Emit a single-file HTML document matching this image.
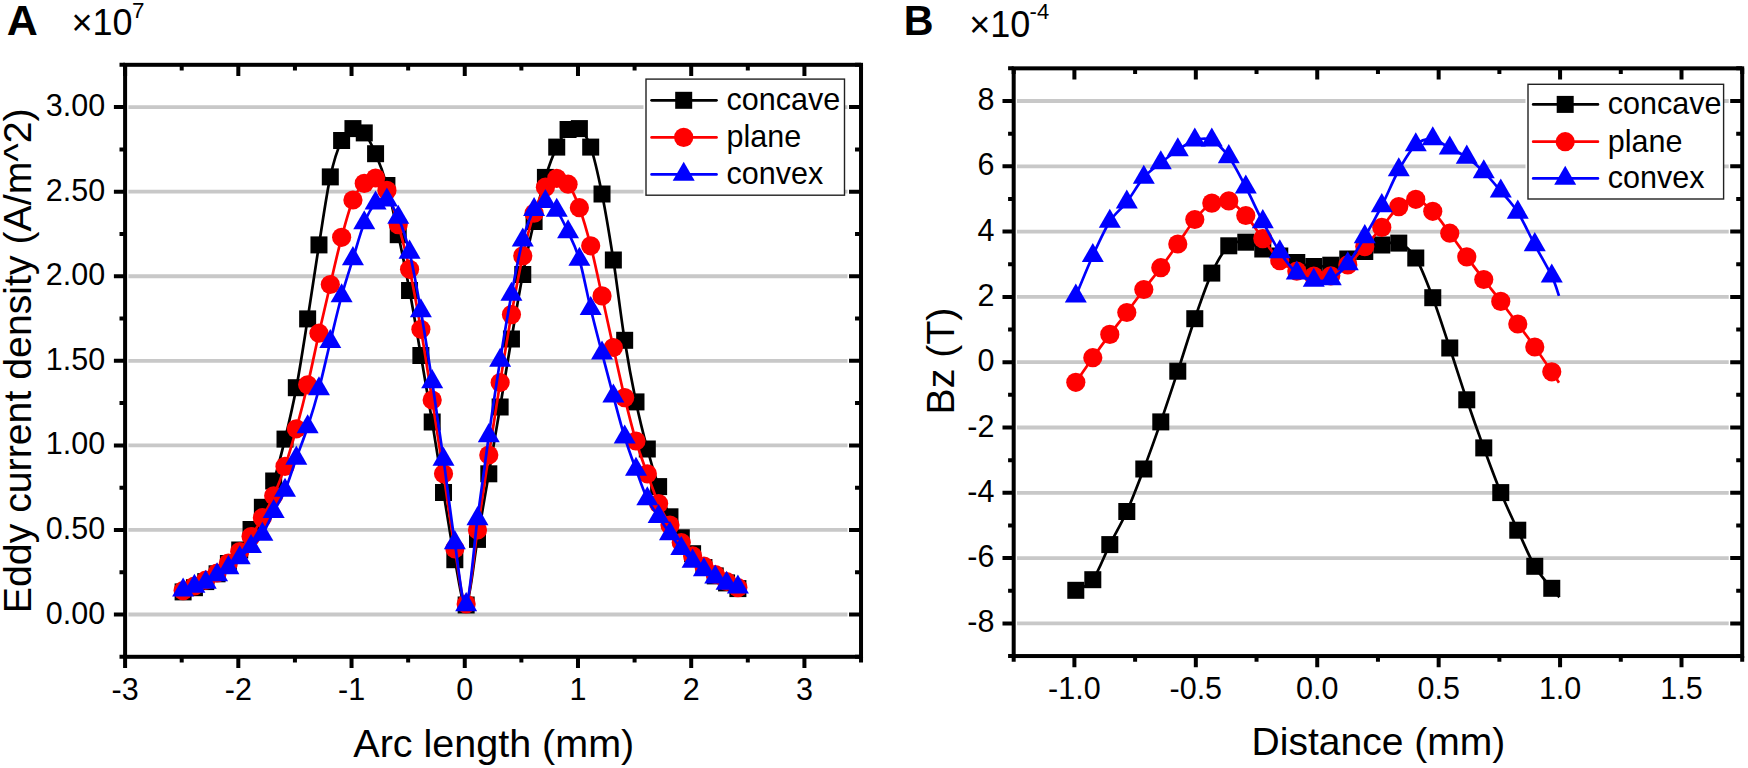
<!DOCTYPE html><html><head><meta charset="utf-8"><title>Eddy current density and Bz</title><style>
html,body{margin:0;padding:0;background:#fff}svg{display:block}
text{font-family:"Liberation Sans",Arial,Helvetica,sans-serif;fill:#000}
.t30{font-size:30.5px}.t39{font-size:39.5px}.t39b{font-size:39px}.t39r{font-size:39.25px}.tb{font-size:43px;font-weight:bold}.tb2{font-size:42.5px;font-weight:bold}.t36{font-size:36px}.tsup{font-size:22.5px}.tsup2{font-size:22px}
</style></head><body>
<svg width="1748" height="768" viewBox="0 0 1748 768">
<rect width="1748" height="768" fill="#fff"/>
<path d="M128.4 614.51H847.53M128.4 529.94H847.53M128.4 445.38H847.53M128.4 360.8H847.53M128.4 276.24H847.53M128.4 191.66H847.53M128.4 107.1H847.53" stroke="#c8c8c8" stroke-width="3.8" fill="none"/>
<path d="M183.11 591.9C185 591.2 190.66 589.42 194.43 587.7C198.21 585.98 201.98 583.92 205.75 581.6C209.53 579.28 213.3 576.82 217.08 573.8C220.85 570.78 224.62 567.47 228.4 563.5C232.17 559.53 235.95 555.67 239.72 550C243.49 544.33 247.27 536.62 251.04 529.5C254.82 522.38 258.59 515.38 262.36 507.3C266.14 499.22 269.91 492.37 273.69 481C277.46 469.63 281.23 454.65 285.01 439.1C288.78 423.55 292.56 407.73 296.33 387.7C300.1 367.67 303.88 342.7 307.65 318.9C311.43 295.1 315.2 268.57 318.97 244.9C322.75 221.23 326.52 194.3 330.3 176.9C334.07 159.5 337.84 148.55 341.62 140.5C345.39 132.45 349.17 129.87 352.94 128.6C356.71 127.33 360.49 128.72 364.26 132.9C368.04 137.08 371.81 144.93 375.58 153.7C379.36 162.47 383.13 172 386.91 185.5C390.68 199 394.45 217.2 398.23 234.7C402 252.2 405.78 270.37 409.55 290.5C413.32 310.63 417.1 333.58 420.87 355.5C424.65 377.42 428.42 399.17 432.19 422C435.97 444.83 439.74 469.55 443.52 492.5C447.29 515.45 451.06 540.95 454.84 559.7C458.61 578.45 462.39 608.38 466.16 605C469.93 601.62 473.71 561.27 477.48 539.4C481.26 517.53 485.03 495.87 488.8 473.8C492.58 451.73 496.35 429.47 500.13 407C503.9 384.53 507.67 361.08 511.45 339C515.22 316.92 519 294.08 522.77 274.5C526.54 254.92 530.32 237.68 534.09 221.5C537.87 205.32 541.64 189.8 545.41 177.4C549.19 165 552.96 155.08 556.74 147.1C560.51 139.12 564.28 132.58 568.06 129.5C571.83 126.42 575.61 125.67 579.38 128.6C583.15 131.53 586.93 136.2 590.7 147.1C594.48 158 598.25 175.18 602.02 194C605.8 212.82 609.57 235.62 613.35 260C617.12 284.38 620.89 316.65 624.67 340.3C628.44 363.95 632.22 383.78 635.99 401.9C639.76 420.02 643.54 434.88 647.31 449C651.09 463.12 654.86 475.3 658.63 486.6C662.41 497.9 666.18 508.27 669.96 516.8C673.73 525.33 677.5 531.65 681.28 537.8C685.05 543.95 688.83 548.75 692.6 553.7C696.37 558.65 700.15 563.8 703.92 567.5C707.7 571.2 711.47 573.33 715.24 575.9C719.02 578.47 722.79 580.78 726.57 582.9C730.34 585.02 736 587.65 737.89 588.6" fill="none" stroke="#000" stroke-width="2.7" stroke-linejoin="round"/>
<g><rect x="174.61" y="583.4" width="17" height="17" fill="#000"/><rect x="185.93" y="579.2" width="17" height="17" fill="#000"/><rect x="197.25" y="573.1" width="17" height="17" fill="#000"/><rect x="208.58" y="565.3" width="17" height="17" fill="#000"/><rect x="219.9" y="555" width="17" height="17" fill="#000"/><rect x="231.22" y="541.5" width="17" height="17" fill="#000"/><rect x="242.54" y="521" width="17" height="17" fill="#000"/><rect x="253.86" y="498.8" width="17" height="17" fill="#000"/><rect x="265.19" y="472.5" width="17" height="17" fill="#000"/><rect x="276.51" y="430.6" width="17" height="17" fill="#000"/><rect x="287.83" y="379.2" width="17" height="17" fill="#000"/><rect x="299.15" y="310.4" width="17" height="17" fill="#000"/><rect x="310.47" y="236.4" width="17" height="17" fill="#000"/><rect x="321.8" y="168.4" width="17" height="17" fill="#000"/><rect x="333.12" y="132" width="17" height="17" fill="#000"/><rect x="344.44" y="120.1" width="17" height="17" fill="#000"/><rect x="355.76" y="124.4" width="17" height="17" fill="#000"/><rect x="367.08" y="145.2" width="17" height="17" fill="#000"/><rect x="378.41" y="177" width="17" height="17" fill="#000"/><rect x="389.73" y="226.2" width="17" height="17" fill="#000"/><rect x="401.05" y="282" width="17" height="17" fill="#000"/><rect x="412.37" y="347" width="17" height="17" fill="#000"/><rect x="423.69" y="413.5" width="17" height="17" fill="#000"/><rect x="435.02" y="484" width="17" height="17" fill="#000"/><rect x="446.34" y="551.2" width="17" height="17" fill="#000"/><rect x="457.66" y="596.5" width="17" height="17" fill="#000"/><rect x="468.98" y="530.9" width="17" height="17" fill="#000"/><rect x="480.3" y="465.3" width="17" height="17" fill="#000"/><rect x="491.63" y="398.5" width="17" height="17" fill="#000"/><rect x="502.95" y="330.5" width="17" height="17" fill="#000"/><rect x="514.27" y="266" width="17" height="17" fill="#000"/><rect x="525.59" y="213" width="17" height="17" fill="#000"/><rect x="536.91" y="168.9" width="17" height="17" fill="#000"/><rect x="548.24" y="138.6" width="17" height="17" fill="#000"/><rect x="559.56" y="121" width="17" height="17" fill="#000"/><rect x="570.88" y="120.1" width="17" height="17" fill="#000"/><rect x="582.2" y="138.6" width="17" height="17" fill="#000"/><rect x="593.52" y="185.5" width="17" height="17" fill="#000"/><rect x="604.85" y="251.5" width="17" height="17" fill="#000"/><rect x="616.17" y="331.8" width="17" height="17" fill="#000"/><rect x="627.49" y="393.4" width="17" height="17" fill="#000"/><rect x="638.81" y="440.5" width="17" height="17" fill="#000"/><rect x="650.13" y="478.1" width="17" height="17" fill="#000"/><rect x="661.46" y="508.3" width="17" height="17" fill="#000"/><rect x="672.78" y="529.3" width="17" height="17" fill="#000"/><rect x="684.1" y="545.2" width="17" height="17" fill="#000"/><rect x="695.42" y="559" width="17" height="17" fill="#000"/><rect x="706.74" y="567.4" width="17" height="17" fill="#000"/><rect x="718.07" y="574.4" width="17" height="17" fill="#000"/><rect x="729.39" y="580.1" width="17" height="17" fill="#000"/></g>
<path d="M183.11 590.6C185 589.83 190.66 587.73 194.43 586C198.21 584.27 201.98 582.37 205.75 580.2C209.53 578.03 213.3 575.87 217.08 573C220.85 570.13 224.62 566.58 228.4 563C232.17 559.42 235.95 555.92 239.72 551.5C243.49 547.08 247.27 542.13 251.04 536.5C254.82 530.87 258.59 524.48 262.36 517.7C266.14 510.92 269.91 504.35 273.69 495.8C277.46 487.25 281.23 477.57 285.01 466.4C288.78 455.23 292.56 442.4 296.33 428.8C300.1 415.2 303.88 400.73 307.65 384.8C311.43 368.87 315.2 349.92 318.97 333.2C322.75 316.48 326.52 300.48 330.3 284.5C334.07 268.52 337.84 251.38 341.62 237.3C345.39 223.22 349.17 208.98 352.94 200C356.71 191.02 360.49 187.07 364.26 183.4C368.04 179.73 371.81 176.83 375.58 178C379.36 179.17 383.13 182.63 386.91 190.4C390.68 198.17 394.45 211.45 398.23 224.6C402 237.75 405.78 251.85 409.55 269.3C413.32 286.75 417.1 307.52 420.87 329.3C424.65 351.08 428.42 375.92 432.19 400C435.97 424.08 439.74 449 443.52 473.8C447.29 498.6 451.06 527.1 454.84 548.8C458.61 570.5 462.39 607.13 466.16 604C469.93 600.87 473.71 554.83 477.48 530C481.26 505.17 485.03 479.58 488.8 455C492.58 430.42 496.35 405.9 500.13 382.5C503.9 359.1 507.67 335.7 511.45 314.6C515.22 293.5 519 272.8 522.77 255.9C526.54 239 530.32 224.65 534.09 213.2C537.87 201.75 541.64 193 545.41 187.2C549.19 181.4 552.96 178.9 556.74 178.4C560.51 177.9 564.28 179.32 568.06 184.2C571.83 189.08 575.61 197.43 579.38 207.7C583.15 217.97 586.93 231.1 590.7 245.8C594.48 260.5 598.25 278.95 602.02 295.9C605.8 312.85 609.57 330.55 613.35 347.5C617.12 364.45 620.89 382.02 624.67 397.6C628.44 413.18 632.22 428.3 635.99 441C639.76 453.7 643.54 463.37 647.31 473.8C651.09 484.23 654.86 495.05 658.63 503.6C662.41 512.15 666.18 518.6 669.96 525.1C673.73 531.6 677.5 537.47 681.28 542.6C685.05 547.73 688.83 552 692.6 555.9C696.37 559.8 700.15 562.9 703.92 566C707.7 569.1 711.47 571.92 715.24 574.5C719.02 577.08 722.79 579.32 726.57 581.5C730.34 583.68 736 586.58 737.89 587.6" fill="none" stroke="#ff0000" stroke-width="2.7" stroke-linejoin="round"/>
<g><circle cx="183.11" cy="590.6" r="9.6" fill="#ff0000"/><circle cx="194.43" cy="586" r="9.6" fill="#ff0000"/><circle cx="205.75" cy="580.2" r="9.6" fill="#ff0000"/><circle cx="217.08" cy="573" r="9.6" fill="#ff0000"/><circle cx="228.4" cy="563" r="9.6" fill="#ff0000"/><circle cx="239.72" cy="551.5" r="9.6" fill="#ff0000"/><circle cx="251.04" cy="536.5" r="9.6" fill="#ff0000"/><circle cx="262.36" cy="517.7" r="9.6" fill="#ff0000"/><circle cx="273.69" cy="495.8" r="9.6" fill="#ff0000"/><circle cx="285.01" cy="466.4" r="9.6" fill="#ff0000"/><circle cx="296.33" cy="428.8" r="9.6" fill="#ff0000"/><circle cx="307.65" cy="384.8" r="9.6" fill="#ff0000"/><circle cx="318.97" cy="333.2" r="9.6" fill="#ff0000"/><circle cx="330.3" cy="284.5" r="9.6" fill="#ff0000"/><circle cx="341.62" cy="237.3" r="9.6" fill="#ff0000"/><circle cx="352.94" cy="200" r="9.6" fill="#ff0000"/><circle cx="364.26" cy="183.4" r="9.6" fill="#ff0000"/><circle cx="375.58" cy="178" r="9.6" fill="#ff0000"/><circle cx="386.91" cy="190.4" r="9.6" fill="#ff0000"/><circle cx="398.23" cy="224.6" r="9.6" fill="#ff0000"/><circle cx="409.55" cy="269.3" r="9.6" fill="#ff0000"/><circle cx="420.87" cy="329.3" r="9.6" fill="#ff0000"/><circle cx="432.19" cy="400" r="9.6" fill="#ff0000"/><circle cx="443.52" cy="473.8" r="9.6" fill="#ff0000"/><circle cx="454.84" cy="548.8" r="9.6" fill="#ff0000"/><circle cx="466.16" cy="604" r="9.6" fill="#ff0000"/><circle cx="477.48" cy="530" r="9.6" fill="#ff0000"/><circle cx="488.8" cy="455" r="9.6" fill="#ff0000"/><circle cx="500.13" cy="382.5" r="9.6" fill="#ff0000"/><circle cx="511.45" cy="314.6" r="9.6" fill="#ff0000"/><circle cx="522.77" cy="255.9" r="9.6" fill="#ff0000"/><circle cx="534.09" cy="213.2" r="9.6" fill="#ff0000"/><circle cx="545.41" cy="187.2" r="9.6" fill="#ff0000"/><circle cx="556.74" cy="178.4" r="9.6" fill="#ff0000"/><circle cx="568.06" cy="184.2" r="9.6" fill="#ff0000"/><circle cx="579.38" cy="207.7" r="9.6" fill="#ff0000"/><circle cx="590.7" cy="245.8" r="9.6" fill="#ff0000"/><circle cx="602.02" cy="295.9" r="9.6" fill="#ff0000"/><circle cx="613.35" cy="347.5" r="9.6" fill="#ff0000"/><circle cx="624.67" cy="397.6" r="9.6" fill="#ff0000"/><circle cx="635.99" cy="441" r="9.6" fill="#ff0000"/><circle cx="647.31" cy="473.8" r="9.6" fill="#ff0000"/><circle cx="658.63" cy="503.6" r="9.6" fill="#ff0000"/><circle cx="669.96" cy="525.1" r="9.6" fill="#ff0000"/><circle cx="681.28" cy="542.6" r="9.6" fill="#ff0000"/><circle cx="692.6" cy="555.9" r="9.6" fill="#ff0000"/><circle cx="703.92" cy="566" r="9.6" fill="#ff0000"/><circle cx="715.24" cy="574.5" r="9.6" fill="#ff0000"/><circle cx="726.57" cy="581.5" r="9.6" fill="#ff0000"/><circle cx="737.89" cy="587.6" r="9.6" fill="#ff0000"/></g>
<path d="M183.11 590.1C185 589.5 190.66 587.78 194.43 586.5C198.21 585.22 201.98 584.33 205.75 582.4C209.53 580.47 213.3 577.33 217.08 574.9C220.85 572.47 224.62 570.63 228.4 567.8C232.17 564.97 235.95 561.42 239.72 557.9C243.49 554.38 247.27 550.62 251.04 546.7C254.82 542.78 258.59 540.25 262.36 534.4C266.14 528.55 269.91 518.92 273.69 511.6C277.46 504.28 281.23 499.38 285.01 490.5C288.78 481.62 292.56 468.88 296.33 458.3C300.1 447.72 303.88 438.55 307.65 427C311.43 415.45 315.2 403.22 318.97 389C322.75 374.78 326.52 357.2 330.3 341.7C334.07 326.2 337.84 309.82 341.62 296C345.39 282.18 349.17 270.97 352.94 258.8C356.71 246.63 360.49 232.28 364.26 223C368.04 213.72 371.81 206.92 375.58 203.1C379.36 199.28 383.13 197.72 386.91 200.1C390.68 202.48 394.45 208.7 398.23 217.4C402 226.1 405.78 236.7 409.55 252.3C413.32 267.9 417.1 289.42 420.87 311C424.65 332.58 428.42 357.07 432.19 381.8C435.97 406.53 439.74 432.57 443.52 459.4C447.29 486.23 451.06 518.57 454.84 542.8C458.61 567.03 462.39 608.8 466.16 604.8C469.93 600.8 473.71 546.97 477.48 518.8C481.26 490.63 485.03 462.2 488.8 435.8C492.58 409.4 496.35 383.95 500.13 360.4C503.9 336.85 507.67 314.55 511.45 294.5C515.22 274.45 519 254.23 522.77 240.1C526.54 225.97 530.32 216.1 534.09 209.7C537.87 203.3 541.64 201.57 545.41 201.7C549.19 201.83 552.96 205.45 556.74 210.5C560.51 215.55 564.28 223.83 568.06 232C571.83 240.17 575.61 246.72 579.38 259.5C583.15 272.28 586.93 293.1 590.7 308.7C594.48 324.3 598.25 338.53 602.02 353.1C605.8 367.67 609.57 382.1 613.35 396.1C617.12 410.1 620.89 424.87 624.67 437.1C628.44 449.33 632.22 459.18 635.99 469.5C639.76 479.82 643.54 491.13 647.31 499C651.09 506.87 654.86 510.9 658.63 516.7C662.41 522.5 666.18 528.47 669.96 533.8C673.73 539.13 677.5 544.12 681.28 548.7C685.05 553.28 688.83 557.75 692.6 561.3C696.37 564.85 700.15 567.35 703.92 570C707.7 572.65 711.47 574.97 715.24 577.2C719.02 579.43 722.79 581.73 726.57 583.4C730.34 585.07 736 586.57 737.89 587.2" fill="none" stroke="#0000ff" stroke-width="2.7" stroke-linejoin="round"/>
<g><path d="M183.11 577.4L194.11 596.45L172.11 596.45Z" fill="#0000ff"/><path d="M194.43 573.8L205.43 592.85L183.43 592.85Z" fill="#0000ff"/><path d="M205.75 569.7L216.75 588.75L194.75 588.75Z" fill="#0000ff"/><path d="M217.08 562.2L228.08 581.25L206.08 581.25Z" fill="#0000ff"/><path d="M228.4 555.1L239.4 574.15L217.4 574.15Z" fill="#0000ff"/><path d="M239.72 545.2L250.72 564.25L228.72 564.25Z" fill="#0000ff"/><path d="M251.04 534L262.04 553.05L240.04 553.05Z" fill="#0000ff"/><path d="M262.36 521.7L273.36 540.75L251.36 540.75Z" fill="#0000ff"/><path d="M273.69 498.9L284.69 517.95L262.69 517.95Z" fill="#0000ff"/><path d="M285.01 477.8L296.01 496.85L274.01 496.85Z" fill="#0000ff"/><path d="M296.33 445.6L307.33 464.65L285.33 464.65Z" fill="#0000ff"/><path d="M307.65 414.3L318.65 433.35L296.65 433.35Z" fill="#0000ff"/><path d="M318.97 376.3L329.97 395.35L307.97 395.35Z" fill="#0000ff"/><path d="M330.3 329L341.3 348.05L319.3 348.05Z" fill="#0000ff"/><path d="M341.62 283.3L352.62 302.35L330.62 302.35Z" fill="#0000ff"/><path d="M352.94 246.1L363.94 265.15L341.94 265.15Z" fill="#0000ff"/><path d="M364.26 210.3L375.26 229.35L353.26 229.35Z" fill="#0000ff"/><path d="M375.58 190.4L386.58 209.45L364.58 209.45Z" fill="#0000ff"/><path d="M386.91 187.4L397.91 206.45L375.91 206.45Z" fill="#0000ff"/><path d="M398.23 204.7L409.23 223.75L387.23 223.75Z" fill="#0000ff"/><path d="M409.55 239.6L420.55 258.65L398.55 258.65Z" fill="#0000ff"/><path d="M420.87 298.3L431.87 317.35L409.87 317.35Z" fill="#0000ff"/><path d="M432.19 369.1L443.19 388.15L421.19 388.15Z" fill="#0000ff"/><path d="M443.52 446.7L454.52 465.75L432.52 465.75Z" fill="#0000ff"/><path d="M454.84 530.1L465.84 549.15L443.84 549.15Z" fill="#0000ff"/><path d="M466.16 592.1L477.16 611.15L455.16 611.15Z" fill="#0000ff"/><path d="M477.48 506.1L488.48 525.15L466.48 525.15Z" fill="#0000ff"/><path d="M488.8 423.1L499.8 442.15L477.8 442.15Z" fill="#0000ff"/><path d="M500.13 347.7L511.13 366.75L489.13 366.75Z" fill="#0000ff"/><path d="M511.45 281.8L522.45 300.85L500.45 300.85Z" fill="#0000ff"/><path d="M522.77 227.4L533.77 246.45L511.77 246.45Z" fill="#0000ff"/><path d="M534.09 197L545.09 216.05L523.09 216.05Z" fill="#0000ff"/><path d="M545.41 189L556.41 208.05L534.41 208.05Z" fill="#0000ff"/><path d="M556.74 197.8L567.74 216.85L545.74 216.85Z" fill="#0000ff"/><path d="M568.06 219.3L579.06 238.35L557.06 238.35Z" fill="#0000ff"/><path d="M579.38 246.8L590.38 265.85L568.38 265.85Z" fill="#0000ff"/><path d="M590.7 296L601.7 315.05L579.7 315.05Z" fill="#0000ff"/><path d="M602.02 340.4L613.02 359.45L591.02 359.45Z" fill="#0000ff"/><path d="M613.35 383.4L624.35 402.45L602.35 402.45Z" fill="#0000ff"/><path d="M624.67 424.4L635.67 443.45L613.67 443.45Z" fill="#0000ff"/><path d="M635.99 456.8L646.99 475.85L624.99 475.85Z" fill="#0000ff"/><path d="M647.31 486.3L658.31 505.35L636.31 505.35Z" fill="#0000ff"/><path d="M658.63 504L669.63 523.05L647.63 523.05Z" fill="#0000ff"/><path d="M669.96 521.1L680.96 540.15L658.96 540.15Z" fill="#0000ff"/><path d="M681.28 536L692.28 555.05L670.28 555.05Z" fill="#0000ff"/><path d="M692.6 548.6L703.6 567.65L681.6 567.65Z" fill="#0000ff"/><path d="M703.92 557.3L714.92 576.35L692.92 576.35Z" fill="#0000ff"/><path d="M715.24 564.5L726.24 583.55L704.24 583.55Z" fill="#0000ff"/><path d="M726.57 570.7L737.57 589.75L715.57 589.75Z" fill="#0000ff"/><path d="M737.89 574.5L748.89 593.55L726.89 593.55Z" fill="#0000ff"/></g>
<path d="M125.1 656.8v11.2M125.1 64.81v11.2M181.71 656.8v5.6M181.71 64.81v5.6M238.32 656.8v11.2M238.32 64.81v11.2M294.93 656.8v5.6M294.93 64.81v5.6M351.54 656.8v11.2M351.54 64.81v11.2M408.15 656.8v5.6M408.15 64.81v5.6M464.76 656.8v11.2M464.76 64.81v11.2M521.37 656.8v5.6M521.37 64.81v5.6M577.98 656.8v11.2M577.98 64.81v11.2M634.59 656.8v5.6M634.59 64.81v5.6M691.2 656.8v11.2M691.2 64.81v11.2M747.81 656.8v5.6M747.81 64.81v5.6M804.42 656.8v11.2M804.42 64.81v11.2M861.03 656.8v5.6M861.03 64.81v5.6M125.1 656.8h-5.6M861.03 656.8h-6M125.1 614.51h-11.2M861.03 614.51h-12M125.1 572.23h-5.6M861.03 572.23h-6M125.1 529.94h-11.2M861.03 529.94h-12M125.1 487.66h-5.6M861.03 487.66h-6M125.1 445.38h-11.2M861.03 445.38h-12M125.1 403.09h-5.6M861.03 403.09h-6M125.1 360.8h-11.2M861.03 360.8h-12M125.1 318.52h-5.6M861.03 318.52h-6M125.1 276.24h-11.2M861.03 276.24h-12M125.1 233.95h-5.6M861.03 233.95h-6M125.1 191.66h-11.2M861.03 191.66h-12M125.1 149.38h-5.6M861.03 149.38h-6M125.1 107.1h-11.2M861.03 107.1h-12M125.1 64.81h-5.6M861.03 64.81h-6" stroke="#000" stroke-width="4.0" fill="none"/>
<rect x="125.1" y="64.81" width="735.93" height="591.99" fill="none" stroke="#000" stroke-width="4.0"/>
<rect x="643.5" y="79.1" width="201" height="116.1" fill="#fff"/>
<rect x="646" y="79.1" width="198.5" height="116.1" fill="#fff" stroke="#222" stroke-width="1.4"/>
<path d="M651.6 100.3H716.5" stroke="#000" stroke-width="2.7" stroke-linecap="round"/>
<rect x="675.2" y="91.8" width="17" height="17" fill="#000"/>
<text x="726.6" y="109.5" class="t30">concave</text>
<path d="M651.6 137.4H716.5" stroke="#ff0000" stroke-width="2.7" stroke-linecap="round"/>
<circle cx="683.7" cy="137.4" r="9.6" fill="#ff0000"/>
<text x="726.6" y="146.6" class="t30">plane</text>
<path d="M651.6 174.4H716.5" stroke="#0000ff" stroke-width="2.7" stroke-linecap="round"/>
<path d="M683.7 161.7L694.7 180.75L672.7 180.75Z" fill="#0000ff"/>
<text x="726.6" y="183.6" class="t30">convex</text>
<text x="105.2" y="623.51" class="t30" text-anchor="end">0.00</text>
<text x="105.2" y="538.94" class="t30" text-anchor="end">0.50</text>
<text x="105.2" y="454.38" class="t30" text-anchor="end">1.00</text>
<text x="105.2" y="369.8" class="t30" text-anchor="end">1.50</text>
<text x="105.2" y="285.24" class="t30" text-anchor="end">2.00</text>
<text x="105.2" y="200.66" class="t30" text-anchor="end">2.50</text>
<text x="105.2" y="116.1" class="t30" text-anchor="end">3.00</text>
<text x="125.1" y="699.5" class="t30" text-anchor="middle">-3</text>
<text x="238.32" y="699.5" class="t30" text-anchor="middle">-2</text>
<text x="351.54" y="699.5" class="t30" text-anchor="middle">-1</text>
<text x="464.76" y="699.5" class="t30" text-anchor="middle">0</text>
<text x="577.98" y="699.5" class="t30" text-anchor="middle">1</text>
<text x="691.2" y="699.5" class="t30" text-anchor="middle">2</text>
<text x="804.42" y="699.5" class="t30" text-anchor="middle">3</text>
<text x="353.3" y="757" class="t39">Arc length (mm)</text>
<text transform="translate(30.5 613.2) rotate(-90)" class="t39r">Eddy current density (A/m^2)</text>
<text x="6.7" y="35" class="tb">A</text>
<text x="71.4" y="35.2" class="t36">×10</text><text x="131.9" y="18.4" class="tsup">7</text>
<path d="M1016.99 623.4H1728.71M1016.99 558.1H1728.71M1016.99 492.8H1728.71M1016.99 427.5H1728.71M1016.99 362.2H1728.71M1016.99 296.9H1728.71M1016.99 231.6H1728.71M1016.99 166.3H1728.71M1016.99 101H1728.71" stroke="#c8c8c8" stroke-width="3.8" fill="none"/>
<path d="M1075.8 590.3C1078.63 588.53 1087.13 587.32 1092.8 579.7C1098.47 572.08 1104.13 555.97 1109.8 544.6C1115.46 533.23 1121.13 524.1 1126.8 511.5C1132.46 498.9 1138.13 483.93 1143.8 469C1149.46 454.07 1155.13 438.2 1160.79 421.9C1166.46 405.6 1172.13 388.4 1177.79 371.2C1183.46 354 1189.13 335.05 1194.79 318.7C1200.46 302.35 1206.12 285.25 1211.79 273.1C1217.46 260.95 1223.12 250.95 1228.79 245.8C1234.46 240.65 1240.12 241.67 1245.79 242.2C1251.45 242.73 1257.12 246.7 1262.79 249C1268.45 251.3 1274.12 253.75 1279.79 256C1285.45 258.25 1291.12 260.75 1296.78 262.5C1302.45 264.25 1308.12 266.05 1313.78 266.5C1319.45 266.95 1325.12 266.45 1330.78 265.2C1336.45 263.95 1342.11 261.28 1347.78 259C1353.45 256.72 1359.11 253.83 1364.78 251.5C1370.45 249.17 1376.11 246.4 1381.78 245C1387.44 243.6 1393.11 240.93 1398.78 243.1C1404.44 245.27 1410.11 248.9 1415.78 258C1421.44 267.1 1427.11 282.7 1432.77 297.7C1438.44 312.7 1444.11 330.98 1449.77 348C1455.44 365.02 1461.11 383.15 1466.77 399.8C1472.44 416.45 1478.1 432.43 1483.77 447.9C1489.44 463.37 1495.1 478.88 1500.77 492.6C1506.44 506.32 1512.1 517.92 1517.77 530.2C1523.44 542.48 1529.1 556.62 1534.77 566.3C1540.43 575.98 1547.68 583.13 1551.77 588.3C1555.86 593.47 1558.04 595.8 1559.3 597.3" fill="none" stroke="#000" stroke-width="2.7" stroke-linejoin="round"/>
<g><rect x="1067.3" y="581.8" width="17" height="17" fill="#000"/><rect x="1084.3" y="571.2" width="17" height="17" fill="#000"/><rect x="1101.3" y="536.1" width="17" height="17" fill="#000"/><rect x="1118.3" y="503" width="17" height="17" fill="#000"/><rect x="1135.3" y="460.5" width="17" height="17" fill="#000"/><rect x="1152.29" y="413.4" width="17" height="17" fill="#000"/><rect x="1169.29" y="362.7" width="17" height="17" fill="#000"/><rect x="1186.29" y="310.2" width="17" height="17" fill="#000"/><rect x="1203.29" y="264.6" width="17" height="17" fill="#000"/><rect x="1220.29" y="237.3" width="17" height="17" fill="#000"/><rect x="1237.29" y="233.7" width="17" height="17" fill="#000"/><rect x="1254.29" y="240.5" width="17" height="17" fill="#000"/><rect x="1271.29" y="247.5" width="17" height="17" fill="#000"/><rect x="1288.28" y="254" width="17" height="17" fill="#000"/><rect x="1305.28" y="258" width="17" height="17" fill="#000"/><rect x="1322.28" y="256.7" width="17" height="17" fill="#000"/><rect x="1339.28" y="250.5" width="17" height="17" fill="#000"/><rect x="1356.28" y="243" width="17" height="17" fill="#000"/><rect x="1373.28" y="236.5" width="17" height="17" fill="#000"/><rect x="1390.28" y="234.6" width="17" height="17" fill="#000"/><rect x="1407.28" y="249.5" width="17" height="17" fill="#000"/><rect x="1424.27" y="289.2" width="17" height="17" fill="#000"/><rect x="1441.27" y="339.5" width="17" height="17" fill="#000"/><rect x="1458.27" y="391.3" width="17" height="17" fill="#000"/><rect x="1475.27" y="439.4" width="17" height="17" fill="#000"/><rect x="1492.27" y="484.1" width="17" height="17" fill="#000"/><rect x="1509.27" y="521.7" width="17" height="17" fill="#000"/><rect x="1526.27" y="557.8" width="17" height="17" fill="#000"/><rect x="1543.27" y="579.8" width="17" height="17" fill="#000"/></g>
<path d="M1075.8 382.3C1078.63 378.2 1087.13 365.68 1092.8 357.7C1098.47 349.72 1104.13 341.93 1109.8 334.4C1115.46 326.87 1121.13 319.98 1126.8 312.5C1132.46 305.02 1138.13 296.97 1143.8 289.5C1149.46 282.03 1155.13 275.28 1160.79 267.7C1166.46 260.12 1172.13 252.03 1177.79 244C1183.46 235.97 1189.13 226.32 1194.79 219.5C1200.46 212.68 1206.12 206.2 1211.79 203.1C1217.46 200 1223.12 198.83 1228.79 200.9C1234.46 202.97 1240.12 209.22 1245.79 215.5C1251.45 221.78 1257.12 231.07 1262.79 238.6C1268.45 246.13 1274.12 255.28 1279.79 260.7C1285.45 266.12 1291.12 268.53 1296.78 271.1C1302.45 273.67 1308.12 275.32 1313.78 276.1C1319.45 276.88 1325.12 277.67 1330.78 275.8C1336.45 273.93 1342.11 269.77 1347.78 264.9C1353.45 260.03 1359.11 252.85 1364.78 246.6C1370.45 240.35 1376.11 234.07 1381.78 227.4C1387.44 220.73 1393.11 211.28 1398.78 206.6C1404.44 201.92 1410.11 198.52 1415.78 199.3C1421.44 200.08 1427.11 205.65 1432.77 211.3C1438.44 216.95 1444.11 225.6 1449.77 233.2C1455.44 240.8 1461.11 249.18 1466.77 256.9C1472.44 264.62 1478.1 272.08 1483.77 279.5C1489.44 286.92 1495.1 293.98 1500.77 301.4C1506.44 308.82 1512.1 316.4 1517.77 324C1523.44 331.6 1529.1 339.03 1534.77 347C1540.43 354.97 1547.73 365.83 1551.77 371.8C1555.81 377.77 1557.79 380.97 1559 382.8" fill="none" stroke="#ff0000" stroke-width="2.7" stroke-linejoin="round"/>
<g><circle cx="1075.8" cy="382.3" r="9.6" fill="#ff0000"/><circle cx="1092.8" cy="357.7" r="9.6" fill="#ff0000"/><circle cx="1109.8" cy="334.4" r="9.6" fill="#ff0000"/><circle cx="1126.8" cy="312.5" r="9.6" fill="#ff0000"/><circle cx="1143.8" cy="289.5" r="9.6" fill="#ff0000"/><circle cx="1160.79" cy="267.7" r="9.6" fill="#ff0000"/><circle cx="1177.79" cy="244" r="9.6" fill="#ff0000"/><circle cx="1194.79" cy="219.5" r="9.6" fill="#ff0000"/><circle cx="1211.79" cy="203.1" r="9.6" fill="#ff0000"/><circle cx="1228.79" cy="200.9" r="9.6" fill="#ff0000"/><circle cx="1245.79" cy="215.5" r="9.6" fill="#ff0000"/><circle cx="1262.79" cy="238.6" r="9.6" fill="#ff0000"/><circle cx="1279.79" cy="260.7" r="9.6" fill="#ff0000"/><circle cx="1296.78" cy="271.1" r="9.6" fill="#ff0000"/><circle cx="1313.78" cy="276.1" r="9.6" fill="#ff0000"/><circle cx="1330.78" cy="275.8" r="9.6" fill="#ff0000"/><circle cx="1347.78" cy="264.9" r="9.6" fill="#ff0000"/><circle cx="1364.78" cy="246.6" r="9.6" fill="#ff0000"/><circle cx="1381.78" cy="227.4" r="9.6" fill="#ff0000"/><circle cx="1398.78" cy="206.6" r="9.6" fill="#ff0000"/><circle cx="1415.78" cy="199.3" r="9.6" fill="#ff0000"/><circle cx="1432.77" cy="211.3" r="9.6" fill="#ff0000"/><circle cx="1449.77" cy="233.2" r="9.6" fill="#ff0000"/><circle cx="1466.77" cy="256.9" r="9.6" fill="#ff0000"/><circle cx="1483.77" cy="279.5" r="9.6" fill="#ff0000"/><circle cx="1500.77" cy="301.4" r="9.6" fill="#ff0000"/><circle cx="1517.77" cy="324" r="9.6" fill="#ff0000"/><circle cx="1534.77" cy="347" r="9.6" fill="#ff0000"/><circle cx="1551.77" cy="371.8" r="9.6" fill="#ff0000"/></g>
<path d="M1075.8 296.1C1078.63 289.37 1087.13 268.13 1092.8 255.7C1098.47 243.27 1104.13 230.43 1109.8 221.5C1115.46 212.57 1121.13 209.45 1126.8 202.1C1132.46 194.75 1138.13 183.93 1143.8 177.4C1149.46 170.87 1155.13 167.47 1160.79 162.9C1166.46 158.33 1172.13 153.78 1177.79 150C1183.46 146.22 1189.13 141.83 1194.79 140.2C1200.46 138.57 1206.12 137.43 1211.79 140.2C1217.46 142.97 1223.12 148.97 1228.79 156.8C1234.46 164.63 1240.12 176.37 1245.79 187.2C1251.45 198.03 1257.12 211 1262.79 221.8C1268.45 232.6 1274.12 243.45 1279.79 252C1285.45 260.55 1291.12 268.35 1296.78 273.1C1302.45 277.85 1308.12 279.53 1313.78 280.5C1319.45 281.47 1325.12 281.67 1330.78 278.9C1336.45 276.13 1342.11 270.92 1347.78 263.9C1353.45 256.88 1359.11 246.48 1364.78 236.8C1370.45 227.12 1376.11 216.93 1381.78 205.8C1387.44 194.67 1393.11 180.15 1398.78 170C1404.44 159.85 1410.11 150.07 1415.78 144.9C1421.44 139.73 1427.11 138.45 1432.77 139C1438.44 139.55 1444.11 145.15 1449.77 148.2C1455.44 151.25 1461.11 153.35 1466.77 157.3C1472.44 161.25 1478.1 166.25 1483.77 171.9C1489.44 177.55 1495.1 184.47 1500.77 191.2C1506.44 197.93 1512.1 203.37 1517.77 212.3C1523.44 221.23 1529.1 234.17 1534.77 244.8C1540.43 255.43 1547.73 267.58 1551.77 276.1C1555.81 284.62 1557.79 292.6 1559 295.9" fill="none" stroke="#0000ff" stroke-width="2.7" stroke-linejoin="round"/>
<g><path d="M1075.8 283.4L1086.8 302.45L1064.8 302.45Z" fill="#0000ff"/><path d="M1092.8 243L1103.8 262.05L1081.8 262.05Z" fill="#0000ff"/><path d="M1109.8 208.8L1120.8 227.85L1098.8 227.85Z" fill="#0000ff"/><path d="M1126.8 189.4L1137.8 208.45L1115.8 208.45Z" fill="#0000ff"/><path d="M1143.8 164.7L1154.8 183.75L1132.8 183.75Z" fill="#0000ff"/><path d="M1160.79 150.2L1171.79 169.25L1149.79 169.25Z" fill="#0000ff"/><path d="M1177.79 137.3L1188.79 156.35L1166.79 156.35Z" fill="#0000ff"/><path d="M1194.79 127.5L1205.79 146.55L1183.79 146.55Z" fill="#0000ff"/><path d="M1211.79 127.5L1222.79 146.55L1200.79 146.55Z" fill="#0000ff"/><path d="M1228.79 144.1L1239.79 163.15L1217.79 163.15Z" fill="#0000ff"/><path d="M1245.79 174.5L1256.79 193.55L1234.79 193.55Z" fill="#0000ff"/><path d="M1262.79 209.1L1273.79 228.15L1251.79 228.15Z" fill="#0000ff"/><path d="M1279.79 239.3L1290.79 258.35L1268.79 258.35Z" fill="#0000ff"/><path d="M1296.78 260.4L1307.78 279.45L1285.78 279.45Z" fill="#0000ff"/><path d="M1313.78 267.8L1324.78 286.85L1302.78 286.85Z" fill="#0000ff"/><path d="M1330.78 266.2L1341.78 285.25L1319.78 285.25Z" fill="#0000ff"/><path d="M1347.78 251.2L1358.78 270.25L1336.78 270.25Z" fill="#0000ff"/><path d="M1364.78 224.1L1375.78 243.15L1353.78 243.15Z" fill="#0000ff"/><path d="M1381.78 193.1L1392.78 212.15L1370.78 212.15Z" fill="#0000ff"/><path d="M1398.78 157.3L1409.78 176.35L1387.78 176.35Z" fill="#0000ff"/><path d="M1415.78 132.2L1426.78 151.25L1404.78 151.25Z" fill="#0000ff"/><path d="M1432.77 126.3L1443.77 145.35L1421.77 145.35Z" fill="#0000ff"/><path d="M1449.77 135.5L1460.77 154.55L1438.77 154.55Z" fill="#0000ff"/><path d="M1466.77 144.6L1477.77 163.65L1455.77 163.65Z" fill="#0000ff"/><path d="M1483.77 159.2L1494.77 178.25L1472.77 178.25Z" fill="#0000ff"/><path d="M1500.77 178.5L1511.77 197.55L1489.77 197.55Z" fill="#0000ff"/><path d="M1517.77 199.6L1528.77 218.65L1506.77 218.65Z" fill="#0000ff"/><path d="M1534.77 232.1L1545.77 251.15L1523.77 251.15Z" fill="#0000ff"/><path d="M1551.77 263.4L1562.77 282.45L1540.77 282.45Z" fill="#0000ff"/></g>
<path d="M1013.69 656.05v5.6M1013.69 68.35v5.6M1074.4 656.05v11.2M1074.4 68.35v11.2M1135.11 656.05v5.6M1135.11 68.35v5.6M1195.82 656.05v11.2M1195.82 68.35v11.2M1256.53 656.05v5.6M1256.53 68.35v5.6M1317.24 656.05v11.2M1317.24 68.35v11.2M1377.95 656.05v5.6M1377.95 68.35v5.6M1438.66 656.05v11.2M1438.66 68.35v11.2M1499.37 656.05v5.6M1499.37 68.35v5.6M1560.08 656.05v11.2M1560.08 68.35v11.2M1620.79 656.05v5.6M1620.79 68.35v5.6M1681.5 656.05v11.2M1681.5 68.35v11.2M1742.21 656.05v5.6M1742.21 68.35v5.6M1013.69 656.05h-5.6M1742.21 656.05h-6M1013.69 623.4h-11.2M1742.21 623.4h-12M1013.69 590.75h-5.6M1742.21 590.75h-6M1013.69 558.1h-11.2M1742.21 558.1h-12M1013.69 525.45h-5.6M1742.21 525.45h-6M1013.69 492.8h-11.2M1742.21 492.8h-12M1013.69 460.15h-5.6M1742.21 460.15h-6M1013.69 427.5h-11.2M1742.21 427.5h-12M1013.69 394.85h-5.6M1742.21 394.85h-6M1013.69 362.2h-11.2M1742.21 362.2h-12M1013.69 329.55h-5.6M1742.21 329.55h-6M1013.69 296.9h-11.2M1742.21 296.9h-12M1013.69 264.25h-5.6M1742.21 264.25h-6M1013.69 231.6h-11.2M1742.21 231.6h-12M1013.69 198.95h-5.6M1742.21 198.95h-6M1013.69 166.3h-11.2M1742.21 166.3h-12M1013.69 133.65h-5.6M1742.21 133.65h-6M1013.69 101h-11.2M1742.21 101h-12M1013.69 68.35h-5.6M1742.21 68.35h-6" stroke="#000" stroke-width="4.0" fill="none"/>
<rect x="1013.69" y="68.35" width="728.52" height="587.7" fill="none" stroke="#000" stroke-width="4.0"/>
<rect x="1525.5" y="84.3" width="198.1" height="114.7" fill="#fff"/>
<rect x="1528" y="84.3" width="195.6" height="114.7" fill="#fff" stroke="#222" stroke-width="1.4"/>
<path d="M1533.2 104.4H1597.9" stroke="#000" stroke-width="2.7" stroke-linecap="round"/>
<rect x="1556.7" y="95.9" width="17" height="17" fill="#000"/>
<text x="1607.8" y="114.4" class="t30">concave</text>
<path d="M1533.2 141.7H1597.9" stroke="#ff0000" stroke-width="2.7" stroke-linecap="round"/>
<circle cx="1565.2" cy="141.7" r="9.6" fill="#ff0000"/>
<text x="1607.8" y="151.7" class="t30">plane</text>
<path d="M1533.2 178.4H1597.9" stroke="#0000ff" stroke-width="2.7" stroke-linecap="round"/>
<path d="M1565.2 165.7L1576.2 184.75L1554.2 184.75Z" fill="#0000ff"/>
<text x="1607.8" y="188.4" class="t30">convex</text>
<text x="994.4" y="632.4" class="t30" text-anchor="end">-8</text>
<text x="994.4" y="567.1" class="t30" text-anchor="end">-6</text>
<text x="994.4" y="501.8" class="t30" text-anchor="end">-4</text>
<text x="994.4" y="436.5" class="t30" text-anchor="end">-2</text>
<text x="994.4" y="371.2" class="t30" text-anchor="end">0</text>
<text x="994.4" y="305.9" class="t30" text-anchor="end">2</text>
<text x="994.4" y="240.6" class="t30" text-anchor="end">4</text>
<text x="994.4" y="175.3" class="t30" text-anchor="end">6</text>
<text x="994.4" y="110" class="t30" text-anchor="end">8</text>
<text x="1074.4" y="698.5" class="t30" text-anchor="middle">-1.0</text>
<text x="1195.82" y="698.5" class="t30" text-anchor="middle">-0.5</text>
<text x="1317.24" y="698.5" class="t30" text-anchor="middle">0.0</text>
<text x="1438.66" y="698.5" class="t30" text-anchor="middle">0.5</text>
<text x="1560.08" y="698.5" class="t30" text-anchor="middle">1.0</text>
<text x="1681.5" y="698.5" class="t30" text-anchor="middle">1.5</text>
<text x="1251.6" y="755" class="t39b">Distance (mm)</text>
<text transform="translate(954.2 414.4) rotate(-90)" class="t39r">Bz (T)</text>
<text transform="translate(903.8 35) scale(0.96 1)" class="tb">B</text>
<text x="969.3" y="37.1" class="t36">×10</text><text x="1029.6" y="19.1" class="tsup2">-4</text>
</svg></body></html>
